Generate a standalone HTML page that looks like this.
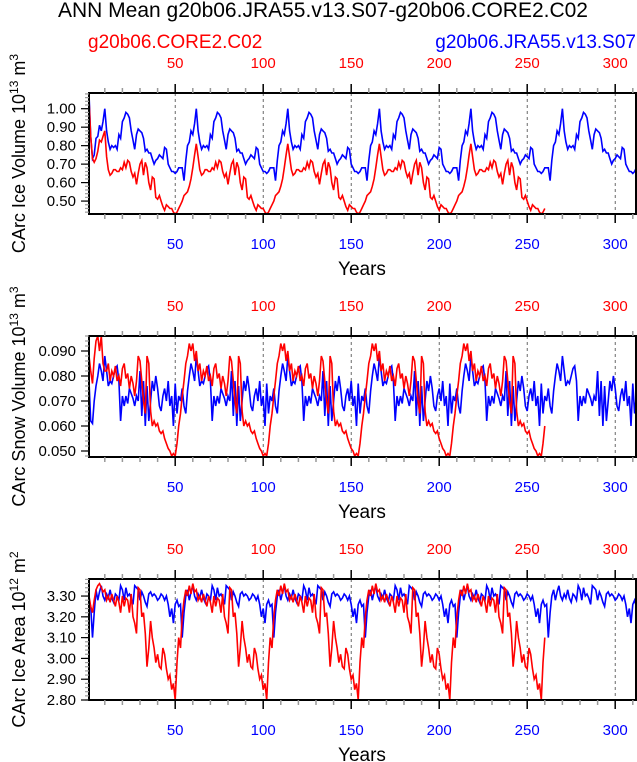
<!DOCTYPE html>
<html><head><meta charset="utf-8"><style>
body{margin:0;background:#fff;}
svg{display:block;font-family:"Liberation Sans",sans-serif;}
</style></head><body>
<svg id="chart" width="637" height="762" viewBox="0 0 637 762"></svg>
<script>
// ---- data (values per model-year; cycles repeat each 52-yr forcing cycle) ----
const years_blue_count = 312;
const years_red_count = 260;
const xTicks = [50,100,150,200,250,300];
// Ice volume
const iceRedCycle=[0.48,0.50,0.53,0.54,0.55,0.58,0.62,0.68,0.75,0.81,0.74,0.67,0.64,0.65,0.67,0.67,0.66,0.66,0.68,0.67,0.71,0.68,0.72,0.71,0.66,0.63,0.65,0.59,0.65,0.70,0.72,0.64,0.71,0.68,0.60,0.56,0.63,0.62,0.52,0.51,0.53,0.50,0.47,0.45,0.48,0.47,0.46,0.46,0.44,0.43,0.44,0.46];
const iceRedStart=[1.05,0.85,0.73,0.71,0.73,0.77,0.83,0.82,0.85,0.88];
const iceBlueCycle=[0.68,0.68,0.61,0.72,0.80,0.82,0.88,0.86,0.92,1.00,0.88,0.82,0.78,0.80,0.79,0.80,0.78,0.86,0.84,0.93,0.95,0.98,0.97,0.95,0.88,0.83,0.78,0.86,0.89,0.88,0.87,0.84,0.77,0.78,0.76,0.76,0.73,0.70,0.72,0.73,0.75,0.74,0.73,0.79,0.78,0.70,0.68,0.66,0.66,0.65,0.66,0.68];
const iceBlueStart=[1.08,0.85,0.73,0.75,0.84,0.85,0.91,0.88,0.93,1.00];
// Snow volume
const snowRedCycle=[0.065,0.072,0.078,0.085,0.088,0.093,0.090,0.093,0.086,0.090,0.082,0.085,0.078,0.082,0.080,0.084,0.078,0.080,0.076,0.083,0.085,0.079,0.081,0.075,0.080,0.077,0.072,0.078,0.088,0.086,0.078,0.070,0.065,0.088,0.085,0.066,0.060,0.062,0.060,0.061,0.058,0.057,0.058,0.055,0.053,0.051,0.050,0.048,0.049,0.048,0.053,0.060];
const snowRedStart=[0.088,0.082,0.077,0.087,0.094,0.096,0.090,0.096,0.085,0.082];
const snowBlueCycle=[0.070,0.075,0.068,0.065,0.074,0.080,0.085,0.082,0.078,0.088,0.082,0.076,0.078,0.077,0.080,0.083,0.084,0.078,0.062,0.072,0.068,0.072,0.069,0.075,0.073,0.071,0.068,0.072,0.070,0.082,0.064,0.078,0.060,0.076,0.062,0.070,0.078,0.074,0.080,0.075,0.068,0.066,0.072,0.075,0.070,0.078,0.068,0.072,0.060,0.077,0.065,0.072];
const snowBlueStart=[0.078,0.062,0.061,0.070,0.076];
// Ice area
const areaRedCycle=[3.05,3.20,3.28,3.33,3.30,3.35,3.31,3.36,3.32,3.33,3.28,3.30,3.27,3.31,3.28,3.25,3.30,3.27,3.22,3.30,3.25,3.29,3.28,3.22,3.31,3.20,3.17,3.12,3.34,3.33,3.20,3.22,3.12,2.96,3.05,3.18,3.10,3.05,2.98,3.02,2.96,2.95,3.05,3.02,2.95,2.90,2.92,2.85,2.88,2.80,2.98,3.10];
const areaRedStart=[3.30,3.25,3.22,3.28,3.33,3.35,3.36,3.34];
const areaBlueCycle=[3.26,3.10,3.22,3.30,3.33,3.28,3.32,3.35,3.30,3.28,3.31,3.29,3.33,3.29,3.27,3.31,3.30,3.28,3.35,3.33,3.28,3.34,3.30,3.31,3.29,3.26,3.35,3.34,3.33,3.28,3.32,3.30,3.27,3.25,3.31,3.32,3.30,3.31,3.30,3.28,3.29,3.31,3.30,3.28,3.30,3.26,3.20,3.24,3.17,3.26,3.28,3.25];
const areaBlueStart=[3.28,3.25,3.10,3.22];

function buildSeries(cycle,start,n){
  const out=[];
  for(let i=0;i<n;i++){ out.push(i<start.length?start[i]:cycle[i%cycle.length]); }
  return out;
}
const NS="http://www.w3.org/2000/svg";
const svg=document.getElementById('chart');
function el(tag,attrs,parent){const e=document.createElementNS(NS,tag);for(const k in attrs)e.setAttribute(k,attrs[k]);(parent||svg).appendChild(e);return e;}
function txt(s,attrs,parent){const e=el('text',attrs,parent);e.textContent=s;return e;}

const X0=87.2, PX=1.76, L=89, R=636;
const xs=y=>X0+(y)*PX;

txt('ANN Mean g20b06.JRA55.v13.S07-g20b06.CORE2.C02',{x:323,y:17,'text-anchor':'middle','font-size':'21',});
txt('g20b06.CORE2.C02',{x:88,y:48,'font-size':'19',fill:'#ff0000',});
txt('g20b06.JRA55.v13.S07',{x:636,y:48,'text-anchor':'end','font-size':'19',fill:'#0000ff',});

const panels=[
 {name:'ice-volume',top:93,bot:214,vmin:0.43,vmax:1.085,ticks:[0.5,0.6,0.7,0.8,0.9,1.0],fmt:2,minor:0.02,title:'CArc Ice Volume 10',exp:'13',unit:' m',uexp:'3',
  red:buildSeries(iceRedCycle,iceRedStart,years_red_count),blue:buildSeries(iceBlueCycle,iceBlueStart,years_blue_count)},
 {name:'snow-volume',top:336,bot:457,vmin:0.0476,vmax:0.096,ticks:[0.05,0.06,0.07,0.08,0.09],fmt:3,minor:0.002,title:'CArc Snow Volume 10',exp:'13',unit:' m',uexp:'3',
  red:buildSeries(snowRedCycle,snowRedStart,years_red_count),blue:buildSeries(snowBlueCycle,snowBlueStart,years_blue_count)},
 {name:'ice-area',top:579,bot:700,vmin:2.80,vmax:3.382,ticks:[2.8,2.9,3.0,3.1,3.2,3.3],fmt:2,minor:0.02,title:'CArc Ice Area 10',exp:'12',unit:' m',uexp:'2',
  red:buildSeries(areaRedCycle,areaRedStart,years_red_count),blue:buildSeries(areaBlueCycle,areaBlueStart,years_blue_count)}
];

panels.forEach(p=>{
  const g=el('g',{});
  
  
  const ys=v=>p.bot-(v-p.vmin)/(p.vmax-p.vmin)*(p.bot-p.top);
  xTicks.forEach(t=>{const l=el('line',{x1:xs(t),x2:xs(t),y1:p.top,y2:p.bot,stroke:'#444','stroke-width':0.8,'stroke-dasharray':'3,3'},g);
    });
  const clip='clip-'+p.name;
  const cp=el('clipPath',{id:clip},g);el('rect',{x:L,y:p.top,width:R-L,height:p.bot-p.top},cp);
  [['blue',p.blue,'#0000ff'],['red',p.red,'#ff0000']].forEach(([nm,arr,c])=>{
    const d=arr.map((v,i)=>(i?'L':'M')+xs(i+1).toFixed(1)+','+ys(v).toFixed(1)).join('');
    const path=el('path',{d:d,fill:'none',stroke:c,'stroke-width':1.6,'clip-path':'url(#'+clip+')'},g);
    
    
  });
  el('rect',{x:L,y:p.top,width:R-L,height:p.bot-p.top,fill:'none',stroke:'#000','stroke-width':2},g);
  for(let t=10;t<=310;t+=10){
    const major=t%50===0;const x=xs(t);
    el('line',{x1:x,x2:x,y1:p.top,y2:p.top-(major?9:5),stroke:major?'#000':'#999','stroke-width':1.5},g);
    el('line',{x1:x,x2:x,y1:p.bot,y2:p.bot+(major?9:5),stroke:major?'#000':'#999','stroke-width':1.5},g);
  }
  xTicks.forEach(t=>{
    const a=txt(String(t),{x:xs(t),y:p.top-25,'text-anchor':'middle','font-size':'15',fill:'#ff0000'},g);
    
    const b=txt(String(t),{x:xs(t),y:p.bot+35,'text-anchor':'middle','font-size':'15',fill:'#0000ff'},g);
    
  });
  const xt=txt('Years',{x:362,y:p.bot+61,'text-anchor':'middle','font-size':'19'},g);
  
  for(let v=Math.ceil(p.vmin/p.minor-1e-6)*p.minor;v<=p.vmax+1e-9;v+=p.minor){
    el('line',{x1:L,x2:L-4,y1:ys(v),y2:ys(v),stroke:'#999','stroke-width':1.2},g);
  }
  p.ticks.forEach(v=>{
    el('line',{x1:L,x2:L-8,y1:ys(v),y2:ys(v),stroke:'#000','stroke-width':1.2},g);
    const t=txt(v.toFixed(p.fmt),{x:L-13,y:ys(v)+5,'text-anchor':'end','font-size':'15'},g);
    
  });
  const cy=(p.top+p.bot)/2;
  const yt=el('text',{transform:'translate(25,'+cy+') rotate(-90)','text-anchor':'middle','font-size':'18'},g);
  
  yt.innerHTML=p.title+'<tspan dy="-7" font-size="12">'+p.exp+'</tspan><tspan dy="7">'+p.unit+'</tspan><tspan dy="-7" font-size="12">'+p.uexp+'</tspan>';
});
</script>
</body></html>
